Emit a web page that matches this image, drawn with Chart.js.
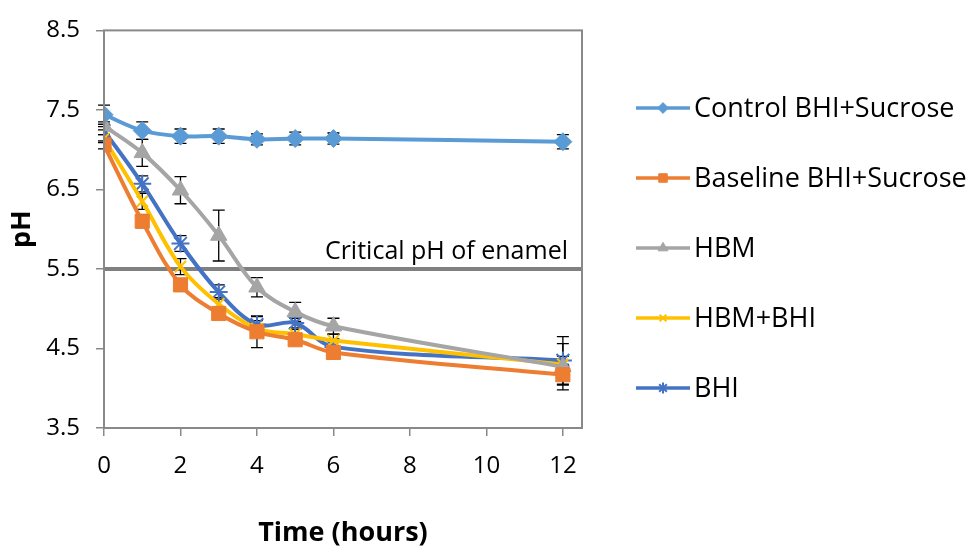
<!DOCTYPE html>
<html lang="en">
<head>
  <meta charset="UTF-8">
  <title>pH over time</title>
  <script src="https://cdn.jsdelivr.net/npm/chart.js"></script>
  <style>
    html, body { margin: 0; padding: 0; background: #fff; }
    #wrap { width: 977px; height: 552px; }
  </style>
</head>
<body>
  <div id="wrap"><canvas id="phChart" width="977" height="552"></canvas></div>

  <script>
    // data
    const hours = [0, 1, 2, 3, 4, 5, 6, 12];
    const seriesNames = ['Control BHI+Sucrose', 'Baseline BHI+Sucrose', 'HBM', 'HBM+BHI', 'BHI'];
    const controlPH  = [7.44, 7.24, 7.17, 7.17, 7.13, 7.14, 7.14, 7.10];
    const baselinePH = [7.06, 6.10, 5.30, 4.94, 4.71, 4.61, 4.45, 4.17];
    const hbmPH      = [7.30, 6.96, 6.49, 5.92, 5.27, 4.96, 4.78, 4.27];
    const hbmBhiPH   = [7.14, 6.35, 5.53, 5.06, 4.75, 4.68, 4.60, 4.30];
    const bhiPH      = [7.24, 6.57, 5.82, 5.21, 4.80, 4.82, 4.52, 4.35];
    // +/- error
    const controlErr  = [0.12, 0.11, 0.09, 0.09, 0.07, 0.08, 0.07, 0.09];
    const baselineErr = [0.05, 0.08, 0.06, 0.05, 0.20, 0.05, 0.05, 0.13];
    const hbmErr      = [0.05, 0.17, 0.17, 0.32, 0.12, 0.12, 0.10, 0.29];
    const hbmBhiErr   = [0.05, 0.10, 0.10, 0.08, 0.10, 0.06, 0.08, 0.10];
    const bhiErr      = [0.05, 0.10, 0.10, 0.09, 0.10, 0.06, 0.10, 0.30];
    const criticalPH = 5.5;
    const criticalLabel = 'Critical pH of enamel';
    const yTicks = [3.5, 4.5, 5.5, 6.5, 7.5, 8.5];
    const xTicks = [0, 2, 4, 6, 8, 10, 12];

    const FONT = "'Open Sans', 'Liberation Sans', sans-serif";

    const styles = [
      { color: '#5B9BD5', point: 'rectRot', r: 9 },
      { color: '#ED7D31', point: 'rect', r: 10 },
      { color: '#A5A5A5', point: 'triangle', r: 9.5 },
      { color: '#FFC000', point: 'crossRot', r: 8 },
      { color: '#4472C4', point: 'star', r: 9 }
    ];
    const values = [controlPH, baselinePH, hbmPH, hbmBhiPH, bhiPH];
    const errors = [controlErr, baselineErr, hbmErr, hbmBhiErr, bhiErr];

    const datasets = seriesNames.map((name, i) => ({
      label: name,
      data: hours.map((h, j) => ({ x: h, y: values[i][j] })),
      errs: errors[i],
      borderColor: styles[i].color,
      backgroundColor: styles[i].color,
      borderWidth: 4,
      tension: 0.35,
      pointStyle: styles[i].point,
      pointRadius: styles[i].r,
      pointBorderWidth: styles[i].point === 'crossRot' || styles[i].point === 'star' ? 2 : 1,
      pointBackgroundColor: styles[i].color,
      pointBorderColor: styles[i].color
    }));

    // plot frame + critical line + error bars + legend
    const extras = {
      id: 'extras',
      beforeDatasetsDraw(chart) {
        const { ctx, chartArea: a, scales } = chart;
        const yc = scales.y.getPixelForValue(criticalPH);
        ctx.save();
        ctx.strokeStyle = '#808080';
        ctx.lineWidth = 4;
        ctx.beginPath();
        ctx.moveTo(a.left, yc);
        ctx.lineTo(a.right, yc);
        ctx.stroke();
        ctx.fillStyle = '#000';
        ctx.font = '25px ' + FONT;
        ctx.textAlign = 'right';
        ctx.textBaseline = 'alphabetic';
        ctx.fillText(criticalLabel, a.right - 14, yc - 10);

        ctx.strokeStyle = '#000';
        ctx.lineWidth = 1.3;
        chart.data.datasets.forEach(ds => {
          ds.data.forEach((p, j) => {
            const x = scales.x.getPixelForValue(p.x);
            const y1 = scales.y.getPixelForValue(p.y + ds.errs[j]);
            const y2 = scales.y.getPixelForValue(p.y - ds.errs[j]);
            ctx.beginPath();
            ctx.moveTo(x, y1); ctx.lineTo(x, y2);
            ctx.moveTo(x - 6, y1); ctx.lineTo(x + 6, y1);
            ctx.moveTo(x - 6, y2); ctx.lineTo(x + 6, y2);
            ctx.stroke();
          });
        });
        ctx.restore();
      },
      afterDraw(chart) {
        const { ctx, chartArea: a } = chart;
        ctx.save();
        ctx.strokeStyle = '#898989';
        ctx.lineWidth = 2;
        ctx.strokeRect(a.left, a.top, a.right - a.left, a.bottom - a.top);

        ctx.font = '27px ' + FONT;
        ctx.textBaseline = 'middle';
        ctx.textAlign = 'left';
        chart.data.datasets.forEach((ds, i) => {
          const y = 108 + i * 70;
          ctx.strokeStyle = ds.borderColor;
          ctx.lineWidth = 3.5;
          ctx.beginPath();
          ctx.moveTo(636, y); ctx.lineTo(690, y);
          ctx.stroke();
          ctx.fillStyle = ds.backgroundColor;
          ctx.strokeStyle = ds.borderColor;
          ctx.lineWidth = ds.pointBorderWidth;
          Chart.helpers.drawPoint(ctx, { pointStyle: ds.pointStyle, radius: ds.pointRadius * 0.6, rotation: 0, borderWidth: ds.pointBorderWidth }, 663, y);
          ctx.fillStyle = '#000';
          ctx.fillText(ds.label, 694, y + 1);
        });
        ctx.restore();
      }
    };

    new Chart(document.getElementById('phChart'), {
      type: 'line',
      data: { datasets },
      options: {
        responsive: false,
        animation: false,
        layout: { padding: { top: 19, right: 395, left: 0, bottom: 0 } },
        plugins: { legend: { display: false }, tooltip: { enabled: false } },
        scales: {
          x: {
            type: 'linear',
            min: 0,
            max: 12.5,
            afterBuildTicks: s => { s.ticks = xTicks.map(v => ({ value: v })); },
            afterFit: s => { s.height = 124; },
            grid: { drawOnChartArea: false, tickLength: 8, color: '#898989', lineWidth: 1.5 },
            border: { display: false },
            ticks: { color: '#000', font: { size: 24, family: FONT }, padding: 16, maxRotation: 0 },
            title: { display: true, text: 'Time (hours)', color: '#000', font: { size: 27, weight: 'bold', family: FONT }, padding: { top: 0, bottom: 2 } }
          },
          y: {
            min: 3.5,
            max: 8.5,
            afterBuildTicks: s => { s.ticks = yTicks.map(v => ({ value: v })); },
            afterFit: s => { s.width = 104; },
            grid: { drawOnChartArea: false, tickLength: 8, color: '#898989', lineWidth: 1.5 },
            border: { display: false },
            ticks: { color: '#000', font: { size: 24, family: FONT }, padding: 16, callback: v => v.toFixed(1) },
            title: { display: true, text: 'pH', color: '#000', font: { size: 27, weight: 'bold', family: FONT }, padding: { top: 6, bottom: 0 } }
          }
        }
      },
      plugins: [extras]
    });
  </script>
</body>
</html>
